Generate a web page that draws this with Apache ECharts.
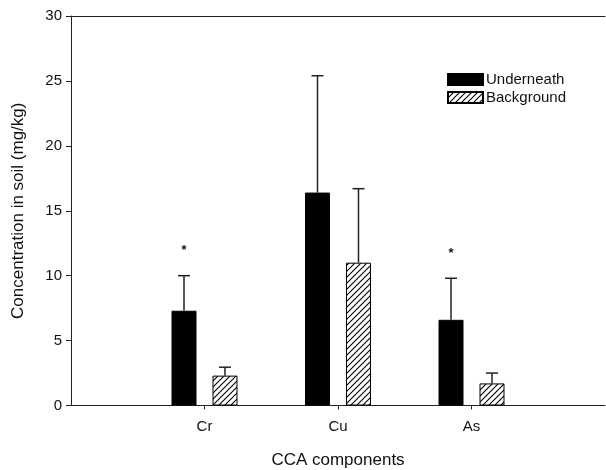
<!DOCTYPE html>
<html>
<head>
    <meta charset="utf-8">
    <title>CCA components</title>
    <script src="https://cdn.jsdelivr.net/npm/echarts@6/dist/echarts.min.js"></script>
    <style>
        html, body { margin: 0; padding: 0; background: #fff; }
        #main { width: 606px; height: 470px; }
    </style>
</head>
<body>
<div id="main"></div>
<script>
    // --- data (empty slots at both ends keep the axis margins)
    var categories = ['', 'Cr', 'Cu', 'As', ''];
    var underneath = [null, 7.3, 16.4, 6.6, null];
    var underneathErr = [null, 2.7, 9.0, 3.2, null];
    var background = [null, 2.3, 11.0, 1.7, null];
    var backgroundErr = [null, 0.65, 5.7, 0.8, null];
    var stars = ['', '*', '', '*', ''];
    var yTicks = [0, 5, 10, 15, 20, 25, 30];

    var font = 'Liberation Sans, Arial, sans-serif';
    var barWidth = 25;
    var barGapPx = 16;
    var barOffset = (barWidth + barGapPx) / 2;

    // hatch pattern ////
    function hatch() {
        var c = document.createElement('canvas');
        c.width = 6;
        c.height = 6;
        var ctx = c.getContext('2d');
        ctx.fillStyle = '#fff';
        ctx.fillRect(0, 0, 6, 6);
        ctx.strokeStyle = '#000';
        ctx.lineWidth = 1.1;
        ctx.beginPath();
        ctx.moveTo(-1, 7); ctx.lineTo(7, -1);
        ctx.moveTo(-1, 1); ctx.lineTo(1, -1);
        ctx.moveTo(5, 7); ctx.lineTo(7, 5);
        ctx.stroke();
        return c;
    }

    function errorData(vals, errs) {
        var out = [];
        for (var i = 0; i < vals.length; i++) {
            if (vals[i] != null) out.push([i, vals[i], errs[i], stars[i]]);
        }
        return out;
    }

    function errRender(offset, withStar) {
        return function (params, api) {
            var top = api.coord([api.value(0), api.value(1) + api.value(2)]);
            var base = api.coord([api.value(0), api.value(1)]);
            var x = top[0] + offset;
            var children = [
                {type: 'line', shape: {x1: x, y1: base[1], x2: x, y2: top[1]},
                    style: {stroke: '#222', lineWidth: 1.5}},
                {type: 'line', shape: {x1: x - 6, y1: top[1], x2: x + 6, y2: top[1]},
                    style: {stroke: '#222', lineWidth: 1.5}}
            ];
            if (withStar && api.value(3) === '*') {
                children.push({type: 'text', x: x, y: top[1] - 25,
                    style: {text: '*', fill: '#111', font: 'bold 13px ' + font,
                        align: 'center', verticalAlign: 'middle'}});
            }
            return {type: 'group', children: children};
        };
    }

    var chart = echarts.init(document.getElementById('main'));
    var option = {
        animation: false,
        backgroundColor: '#fff',
        grid: {left: 71, right: 1, top: 16, bottom: 64.5, outerBoundsMode: 'none'},
        legend: {
            orient: 'vertical',
            left: 442,
            top: 67,
            itemWidth: 35,
            itemHeight: 11,
            itemGap: 3,
            icon: 'rect',
            textStyle: {fontFamily: font, fontSize: 15, color: '#111', padding: [0, 0, 0, -2]},
            data: ['Underneath', 'Background']
        },
        xAxis: [{
            type: 'category',
            data: categories,
            boundaryGap: false,
            name: 'CCA components',
            nameLocation: 'middle',
            nameGap: 46,
            nameTextStyle: {fontFamily: font, fontSize: 17, color: '#111'},
            axisLine: {lineStyle: {color: '#222', width: 1}},
            axisTick: {
                length: 4, inside: false,
                interval: function (i) { return categories[i] !== ''; },
                lineStyle: {color: '#222'}
            },
            axisLabel: {fontFamily: font, fontSize: 15, color: '#111', margin: 14, interval: 0},
            splitLine: {show: false}
        }, {
            type: 'category',
            data: categories,
            boundaryGap: false,
            position: 'top',
            axisLine: {lineStyle: {color: '#222', width: 1}},
            axisTick: {show: false},
            axisLabel: {show: false},
            splitLine: {show: false}
        }],
        yAxis: {
            type: 'value',
            min: yTicks[0],
            max: yTicks[yTicks.length - 1],
            interval: yTicks[1] - yTicks[0],
            name: 'Concentration in soil (mg/kg)',
            nameLocation: 'middle',
            nameGap: 44,
            nameTextStyle: {fontFamily: font, fontSize: 17, color: '#111'},
            axisLine: {show: true, lineStyle: {color: '#222', width: 1}},
            axisTick: {show: true, length: 5, lineStyle: {color: '#222'}},
            axisLabel: {fontFamily: font, fontSize: 15, color: '#111', margin: 9},
            splitLine: {show: false}
        },
        series: [{
            name: 'Underneath',
            type: 'bar',
            data: underneath,
            barWidth: barWidth,
            barGap: (barGapPx / barWidth * 100) + '%',
            itemStyle: {color: '#000', borderColor: '#000', borderWidth: 1}
        }, {
            name: 'Background',
            type: 'bar',
            data: background,
            barWidth: barWidth,
            itemStyle: {color: {image: hatch(), repeat: 'repeat'}, borderColor: '#000', borderWidth: 1}
        }, {
            type: 'custom',
            data: errorData(underneath, underneathErr),
            renderItem: errRender(-barOffset, true),
            z: 3
        }, {
            type: 'custom',
            data: errorData(background, backgroundErr),
            renderItem: errRender(barOffset, false),
            z: 3
        }]
    };
    chart.setOption(option);
</script>
</body>
</html>
